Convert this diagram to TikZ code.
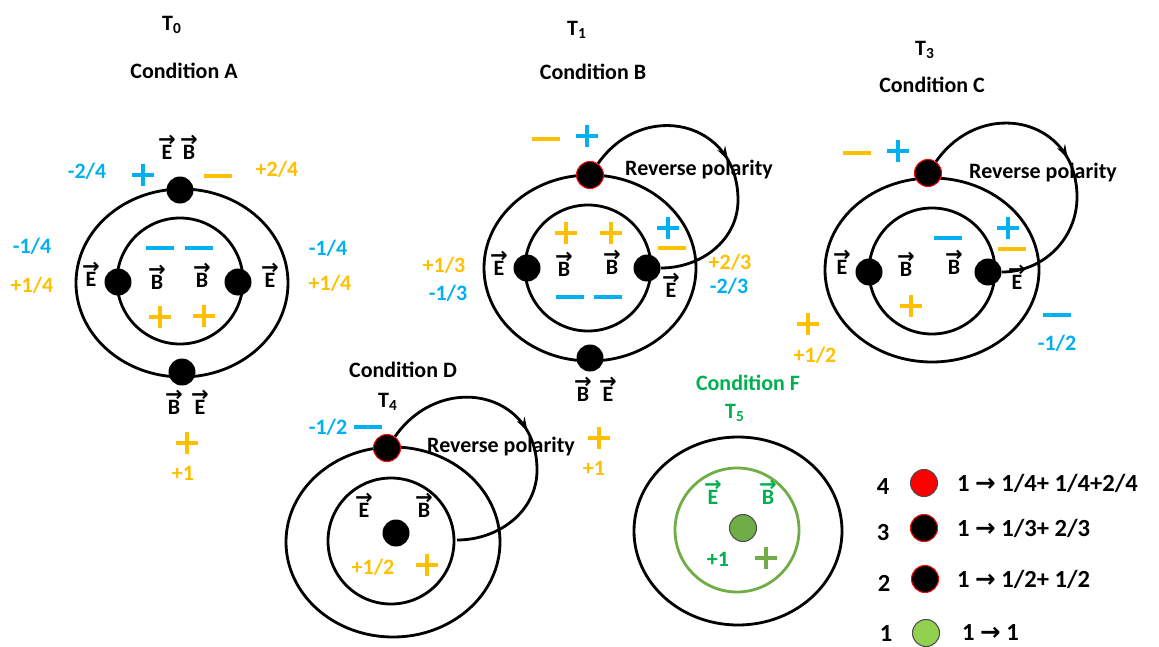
\documentclass[tikz,border=0pt]{standalone}
\usepackage{fontspec}
\setmainfont{Carlito}
\newfontfamily\symfont{DejaVu Sans}
\usepackage{tikz}
\usetikzlibrary{calc,positioning,arrows.meta,decorations.markings}

\definecolor{cyanB}{RGB}{0,176,240}
\definecolor{gold}{RGB}{255,192,0}
\definecolor{grn}{RGB}{0,176,80}
\definecolor{mgrn}{RGB}{112,173,71}
\definecolor{lgrn}{RGB}{146,208,80}

\newcommand{\vb}[1]{\ooalign{#1\cr\hidewidth\raisebox{0.56em}{\fontsize{12}{12}\symfont\bfseries →}\hidewidth\cr}}
\newcommand{\ar}{{\symfont\bfseries →}}

\begin{document}
\begin{tikzpicture}[x=0.02cm,y=0.02cm,
  ele/.style={fill=black,circle,minimum size=0.54cm,inner sep=0pt},
  rdot/.style={ele,draw=red,line width=0.6pt},
  orb/.style={line width=1.6pt},
  txt/.style={font=\bfseries\fontsize{12.5}{14}\selectfont,inner sep=1pt},
  leg/.style={font=\bfseries\fontsize{14}{16}\selectfont,inner sep=1pt},
  blu/.style={txt,text=cyanB},
  org/.style={txt,text=gold},
  rev/.style={orb,postaction={decorate},
    decoration={markings,mark=at position 0.5 with {\arrow{Stealth[length=8pt,width=5pt]}}}},
  pls/.pic={\draw[line width=2.2pt] (-11,0) -- (11,0) (0,-11) -- (0,11);},
  mns/.pic={\draw[line width=2.2pt] (-14,0) -- (14,0);}]
\useasboundingbox (0,0) rectangle (1159,-646);

% Condition A
\node[txt] (t0) at (172,-25) {T\textsubscript{0}};
\node[txt] (titA) at (184,-71) {Condition A};
\draw[orb] (182,-283) ellipse [x radius=106, y radius=94];
\draw[orb] (180,-281) circle [radius=63];
\node[ele] (aT) at (180,-190) {};
\node[ele] (aD) at (182,-372) {};
\node[ele] (aL) at (118,-282) {};
\node[ele] (aR) at (238,-282) {};
\node[txt] (aE1) at (167,-152) {\vb{E}};
\node[txt] (aB1) at (189,-152) {\vb{B}};
\node[txt] (aB2) at (174,-407) {\vb{B}};
\node[txt] (aE2) at (200,-407) {\vb{E}};
\node[txt] (aE3) at (91,-279) {\vb{E}};
\node[txt] (aB3) at (157,-282) {\vb{B}};
\node[txt] (aB4) at (202,-280) {\vb{B}};
\node[txt] (aE4) at (270,-280) {\vb{E}};
\node[blu] (a1) at (87,-171) {-2/4};
\node[org] (a2) at (277,-169) {+2/4};
\node[blu] (a3) at (32,-246) {-1/4};
\node[org] (a4) at (32,-285) {+1/4};
\node[blu] (a5) at (328,-248) {-1/4};
\node[org] (a6) at (330,-283) {+1/4};
\node[org] (a7) at (183,-473) {+1};
\pic[cyanB] at (143,-175) {pls};
\pic[gold] at (218,-176) {mns};
\pic[cyanB] at (160,-248) {mns};
\pic[cyanB] at (199,-248) {mns};
\pic[gold] at (160,-317) {pls};
\pic[gold] at (204,-316) {pls};
\pic[gold] at (187,-443) {pls};

% Condition B
\node[txt] (t1) at (577,-30) {T\textsubscript{1}};
\node[txt] (titB) at (593,-72) {Condition B};
\draw[orb] (590,-268) ellipse [x radius=106, y radius=93];
\draw[orb] (588,-268) circle [radius=63];
\node[rdot] (bT) at (590,-175) {};
\node[ele] (bD) at (590,-358) {};
\node[ele] (bL) at (527,-268) {};
\node[ele] (bR) at (647,-268) {};
\coordinate (bK) at (738,-200);
\draw[rev] (bT) to[out=55,in=90,looseness=1.4] (bK) to[out=-90,in=0] (bR);
\node[txt] (bRev) at (699,-170) {Reverse polarity};
\node[txt] (bE1) at (499,-268) {\vb{E}};
\node[txt] (bB1) at (564,-269) {\vb{B}};
\node[txt] (bB2) at (612,-267) {\vb{B}};
\node[txt] (bE2) at (671,-290) {\vb{E}};
\node[txt] (bB3) at (583,-394) {\vb{B}};
\node[txt] (bE3) at (608,-394) {\vb{E}};
\node[org] (b1) at (444,-265) {+1/3};
\node[blu] (b2) at (448,-293) {-1/3};
\node[org] (b3) at (730,-262) {+2/3};
\node[blu] (b4) at (729,-286) {-2/3};
\node[org] (b5) at (594,-468) {+1};
\pic[gold] at (546,-139) {mns};
\pic[cyanB] at (587,-136) {pls};
\pic[gold] at (566,-233) {pls};
\pic[gold] at (611,-233) {pls};
\pic[cyanB] at (570,-297) {mns};
\pic[cyanB] at (608,-297) {mns};
\pic[cyanB] at (668,-228) {pls};
\pic[gold] at (672,-248) {mns};
\pic[gold] at (599,-438) {pls};

% Condition C
\node[txt] (t3) at (925,-50) {T\textsubscript{3}};
\node[txt] (titC) at (932,-85) {Condition C};
\draw[orb] (932,-270) ellipse [x radius=107, y radius=92];
\draw[orb] (932,-271) circle [radius=63];
\node[rdot] (cT) at (928,-173) {};
\node[ele] (cL) at (869,-272) {};
\node[ele] (cR) at (988,-272) {};
\coordinate (cK) at (1077,-197);
\draw[rev] (cT) to[out=55,in=90,looseness=1.4] (cK) to[out=-90,in=0] (cR);
\node[txt] (cRev) at (1043,-173) {Reverse polarity};
\node[txt] (cE1) at (842,-267) {\vb{E}};
\node[txt] (cB1) at (906,-269) {\vb{B}};
\node[txt] (cB2) at (954,-267) {\vb{B}};
\node[txt] (cE2) at (1017,-282) {\vb{E}};
\node[org] (c1) at (815,-355) {+1/2};
\node[blu] (c2) at (1057,-343) {-1/2};
\pic[gold] at (857,-153) {mns};
\pic[cyanB] at (898,-151) {pls};
\pic[cyanB] at (948,-238) {mns};
\pic[cyanB] at (1008,-228) {pls};
\pic[gold] at (1012,-249) {mns};
\pic[gold] at (911,-306) {pls};
\pic[gold] at (808,-324) {pls};
\pic[cyanB] at (1057,-315) {mns};

% Condition D
\node[txt] (titD) at (403,-370) {Condition D};
\node[txt] (t4) at (388,-402) {T\textsubscript{4}};
\draw[orb] (393,-542) ellipse [x radius=107, y radius=95];
\draw[orb] (391,-541) circle [radius=63];
\node[rdot] (dT) at (387,-448) {};
\node[ele] (dC) at (396,-533) {};
\coordinate (dK) at (537,-470);
\coordinate (dE) at (457,-540);
\draw[rev] (dT) to[out=55,in=90,looseness=1.4] (dK) to[out=-90,in=0] (dE);
\node[txt] (dRev) at (501,-447) {Reverse polarity};
\node[txt] (dE1) at (364,-510) {\vb{E}};
\node[txt] (dB1) at (424,-510) {\vb{B}};
\node[blu] (d1) at (328,-427) {-1/2};
\node[org] (d2) at (373,-567) {+1/2};
\pic[cyanB] at (368,-427) {mns};
\pic[gold] at (427,-565) {pls};

% Condition F
\node[txt,text=grn] (titF) at (748,-383) {Condition F};
\node[txt,text=grn] (t5) at (735,-413) {T\textsubscript{5}};
\draw[orb] (738,-531) ellipse [x radius=104, y radius=94];
\draw[orb,mgrn] (737,-530) circle [radius=62];
\node[ele,fill=mgrn,draw=black!70,line width=0.6pt] (fC) at (743,-528) {};
\node[txt,text=grn] (fE1) at (713,-497) {\vb{E}};
\node[txt,text=grn] (fB1) at (768,-497) {\vb{B}};
\node[txt,text=grn] (f1) at (718,-559) {+1};
\pic[mgrn] at (766,-558) {pls};

% legend
\node[leg] (n4) at (883,-487) {4};
\node[leg] (n3) at (883,-533) {3};
\node[leg] (n2) at (884,-583) {2};
\node[leg] (n1) at (886,-634) {1};
\node[ele,fill=red,draw=black!70,line width=0.6pt] (l4) at (924,-483) {};
\node[rdot] (l3) at (924,-528) {};
\node[rdot] (l2) at (925,-579) {};
\node[ele,fill=lgrn,draw=black!70,line width=0.6pt] (l1) at (926,-633) {};
\node[leg,anchor=west] (s4) at (955,-483) {1 \ar{} 1/4+ 1/4+2/4};
\node[leg,anchor=west] (s3) at (955,-528) {1 \ar{} 1/3+ 2/3};
\node[leg,anchor=west] (s2) at (955,-579) {1 \ar{} 1/2+ 1/2};
\node[leg,anchor=west] (s1) at (960,-633) {1 \ar{} 1};
\end{tikzpicture}
\end{document}
